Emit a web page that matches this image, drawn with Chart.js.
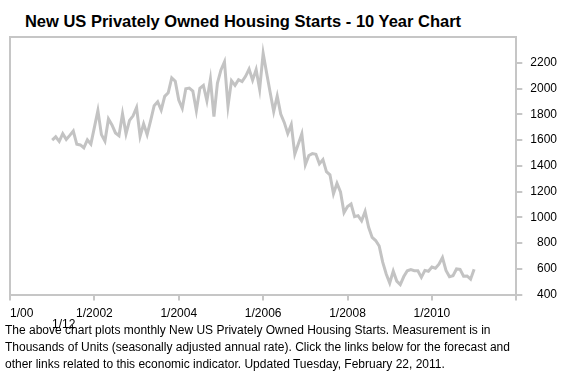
<!DOCTYPE html>
<html>
<head>
<meta charset="utf-8">
<script src="https://cdn.jsdelivr.net/npm/chart.js@4"></script>
<style>
  html, body { margin: 0; padding: 0; background: #fff; }
  #wrap { position: relative; width: 570px; height: 376px; overflow: hidden; font-family: "Liberation Sans", Arial, sans-serif; }
  #title { position: absolute; left: 0; top: 11px; width: 486px; text-align: center; font-weight: bold; font-size: 16.5px; line-height: 20px; color: #000; }
  #cv { position: absolute; left: 0; top: 0; }
  #stray { position: absolute; left: 52px; top: 317px; font-size: 12px; line-height: 14px; color: #000; }
  #foot { position: absolute; left: 5px; top: 322px; width: 565px; font-size: 12px; line-height: 17px; color: #000; white-space: nowrap; }
</style>
</head>
<body>
<div id="wrap">
  <div id="title">New US Privately Owned Housing Starts - 10 Year Chart</div>
  <canvas id="cv" width="570" height="376"></canvas>
  <div id="foot">The above chart plots monthly New US Privately Owned Housing Starts. Measurement is in<br>Thousands of Units (seasonally adjusted annual rate). Click the links below for the forecast and<br>other links related to this economic indicator. Updated Tuesday, February 22, 2011.</div>
  <div id="stray"></div>
</div>
<script>
// Monthly housing starts, thousands of units (SAAR), Jan 2001 .. Jan 2011
const startMonth = 12; // months after Jan 2000 (Jan 2001)
const starts2001 = [1600, 1625, 1590, 1649, 1605, 1636, 1670, 1567, 1562, 1540, 1602, 1568];
const starts2002 = [1698, 1829, 1642, 1592, 1764, 1717, 1655, 1633, 1804, 1648, 1753, 1788];
const starts2003 = [1853, 1629, 1726, 1643, 1751, 1867, 1897, 1833, 1939, 1967, 2083, 2057];
const starts2004 = [1911, 1846, 1998, 2003, 1981, 1828, 2002, 2024, 1905, 2072, 1782, 2042];
const starts2005 = [2144, 2207, 1864, 2061, 2025, 2068, 2054, 2095, 2151, 2065, 2147, 1994];
const starts2006 = [2273, 2119, 1969, 1821, 1942, 1802, 1737, 1650, 1720, 1491, 1570, 1649];
const starts2007 = [1409, 1480, 1495, 1490, 1415, 1448, 1354, 1330, 1183, 1264, 1197, 1037];
const starts2008 = [1084, 1103, 1005, 1013, 973, 1046, 923, 844, 820, 777, 652, 560];
const starts2009 = [490, 582, 505, 478, 540, 585, 594, 586, 585, 534, 588, 581];
const starts2010 = [614, 605, 636, 687, 588, 539, 546, 599, 596, 543, 545, 520];
const starts2011 = [596];

const xTickLabels = ['1/00', '1/2002', '1/2004', '1/2006', '1/2008', '1/2010', '1/12'];
const xTickMonths = [0, 24, 48, 72, 96, 120, 144];
const yTicks = [400, 600, 800, 1000, 1200, 1400, 1600, 1800, 2000, 2200];

const values = [].concat(starts2001, starts2002, starts2003, starts2004, starts2005,
  starts2006, starts2007, starts2008, starts2009, starts2010, starts2011);
const points = values.map((v, i) => ({ x: startMonth + i, y: v }));

document.getElementById('stray').textContent = xTickLabels[xTickLabels.length - 1];

const frameColor = '#c6c6c6';
const framePlugin = {
  id: 'frame',
  beforeDatasetsDraw(chart) {
    const { ctx, chartArea: a } = chart;
    ctx.save();
    ctx.strokeStyle = frameColor;
    ctx.lineWidth = 2;
    ctx.beginPath();
    ctx.moveTo(a.left, a.bottom);
    ctx.lineTo(a.left, a.top);
    ctx.lineTo(a.right, a.top);
    ctx.stroke();
    ctx.restore();
  }
};

Chart.defaults.font.family = '"Liberation Sans", Arial, sans-serif';
new Chart(document.getElementById('cv'), {
  type: 'line',
  data: {
    datasets: [{
      data: points,
      borderColor: '#c3c3c3',
      borderWidth: 3,
      pointRadius: 0,
      tension: 0,
      fill: false
    }]
  },
  options: {
    responsive: false,
    animation: false,
    events: [],
    layout: { padding: { left: 10, top: 37, right: 13, bottom: 49 } },
    plugins: { legend: { display: false }, tooltip: { enabled: false }, title: { display: false } },
    scales: {
      x: {
        type: 'linear',
        min: 0,
        max: 144,
        afterBuildTicks(scale) { scale.ticks = xTickMonths.map(v => ({ value: v })); },
        ticks: {
          autoSkip: false,
          maxRotation: 0,
          align: 'inner',
          color: '#000',
          font: { size: 12 },
          padding: 6,
          callback(v) {
            const i = xTickMonths.indexOf(v);
            return (i < 0 || i === xTickMonths.length - 1) ? '' : xTickLabels[i];
          }
        },
        grid: { drawOnChartArea: false, drawTicks: true, tickLength: 6, color: frameColor, lineWidth: 2 },
        border: { display: true, color: frameColor, width: 2 }
      },
      y: {
        position: 'right',
        min: 400,
        max: 2400,
        afterBuildTicks(scale) { scale.ticks = yTicks.map(v => ({ value: v })); },
        ticks: {
          color: '#000',
          font: { size: 12 },
          padding: 4,
          crossAlign: 'far',
          callback(v) { return String(v); }
        },
        grid: { drawOnChartArea: false, drawTicks: true, tickLength: 6, color: frameColor, lineWidth: 2 },
        border: { display: true, color: frameColor, width: 2 }
      }
    }
  },
  plugins: [framePlugin]
});
</script>
</body>
</html>
